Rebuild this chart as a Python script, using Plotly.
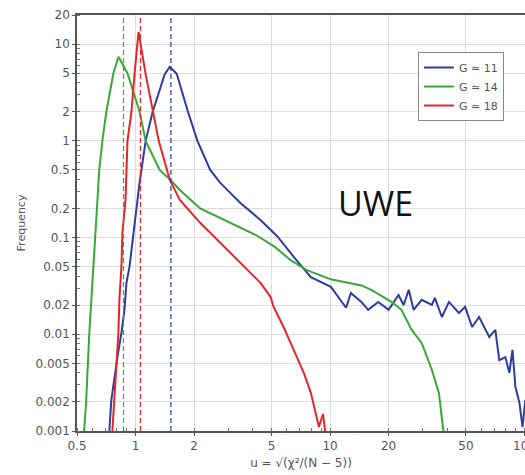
import plotly.graph_objects as go
import numpy as np

# ---- data ----
blue_x = [0.733, 0.751, 0.807, 0.846, 0.877, 0.898, 0.931, 0.965, 1.024, 1.049, 1.127, 1.225, 1.413, 1.50,
          1.63, 1.75, 1.86, 2.08, 2.42, 2.72, 3.46, 4.39, 5.38, 6.51, 7.97,
          10.1, 11.0, 12.1, 12.8, 14.5, 15.7, 17.7, 20.0, 22.5, 23.9, 25.4, 26.9, 29.6, 33.4, 34.6,
          37.6, 40.9, 46.0, 49.5, 53.8, 58.4, 65.9, 70.8, 74.2, 79.7, 83.6, 86.7, 89.8, 94.2, 97.7, 101]
blue_y = [0.001, 0.0021, 0.0058, 0.0103, 0.0179, 0.034, 0.050, 0.095, 0.245, 0.37, 1.0, 2.0, 4.9, 5.82,
          4.9, 3.0, 2.0, 1.0, 0.50, 0.37, 0.228, 0.152, 0.102, 0.063, 0.039,
          0.0309, 0.0244, 0.0188, 0.0268, 0.0216, 0.0179, 0.0216, 0.0179, 0.0255, 0.0201, 0.0288, 0.0179,
          0.0227, 0.0201, 0.0238, 0.0151, 0.0216, 0.0166, 0.0192, 0.0119, 0.0151, 0.0094, 0.0111,
          0.0054, 0.0058, 0.0040, 0.0069, 0.00286, 0.00195, 0.0011, 0.0021]

green_x = [0.544, 0.557, 0.578, 0.606, 0.620, 0.636, 0.651, 0.675, 0.708, 0.769, 0.817,
           0.909, 1.049, 1.127, 1.33, 1.50, 1.69, 2.15, 3.07, 4.2, 5.2, 6.3, 7.6,
           10.1, 14.5, 16.3, 20.7, 23.3, 26.3, 29.6, 33.4, 36.3, 38.5]
green_y = [0.001, 0.002, 0.01, 0.05, 0.1, 0.2, 0.5, 1.0, 2.0, 5.0, 7.39,
           5.0, 2.0, 1.0, 0.5, 0.40, 0.31, 0.20, 0.142, 0.105, 0.080, 0.058, 0.046,
           0.037, 0.032, 0.0288, 0.0216, 0.0179, 0.0111, 0.00815, 0.00428, 0.00248, 0.0009]

red_x = [0.760, 0.778, 0.797, 0.816, 0.826, 0.846, 0.856, 0.888, 0.909, 0.953, 0.988, 1.036,
         1.127, 1.225, 1.316, 1.50, 1.69, 2.15, 2.63, 3.76, 4.39, 4.94, 5.13, 5.77, 6.51,
         7.33, 7.97, 8.46, 8.77, 9.2, 9.5]
red_y = [0.001, 0.0021, 0.0046, 0.0103, 0.0227, 0.050, 0.112, 0.245, 1.0, 2.0, 4.9, 13.4,
         4.9, 2.0, 1.0, 0.395, 0.245, 0.142, 0.095, 0.0464, 0.034, 0.0244, 0.0192, 0.0119, 0.0069,
         0.0040, 0.00248, 0.00154, 0.0011, 0.0015, 0.0009]

series_names = ["G \u2243 11", "G \u2243 14", "G \u2243 18"]
series_colors = ["#2e3c9e", "#38a838", "#e2262c"]
mean_values = [1.52, 0.867, 1.06]   # dashed vertical markers (blue, green, red)

x_ticks = [0.5, 1, 2, 5, 10, 20, 50, 100]
y_ticks = [0.001, 0.002, 0.005, 0.01, 0.02, 0.05, 0.1, 0.2, 0.5, 1, 2, 5, 10, 20]
y_ticktext = ["0.001", "0.002", "0.005", "0.01", "0.02", "0.05", "0.1", "0.2", "0.5", "1", "2", "5", "10", "20"]
x_ticktext = ["0.5", "1", "2", "5", "10", "20", "50", "100"]

fig = go.Figure()

for xs, ys, name, col in zip([blue_x, green_x, red_x], [blue_y, green_y, red_y], series_names, series_colors):
    fig.add_trace(go.Scatter(x=xs, y=ys, mode="lines", name=name,
                             line=dict(color=col, width=2)))

for m, col in zip(mean_values, series_colors):
    fig.add_trace(go.Scatter(x=[m, m], y=[y_ticks[0], y_ticks[-1]], mode="lines", showlegend=False,
                             line=dict(color=col, width=1.2, dash="5px,3px"), hoverinfo="skip"))

axis_font = dict(family="DejaVu Sans", size=12, color="#555555")

fig.update_layout(
    width=525, height=475,
    margin=dict(l=77, r=0, t=15, b=44),
    paper_bgcolor="white", plot_bgcolor="white",
    showlegend=True,
    legend=dict(x=0.761, y=0.911, xanchor="left", yanchor="top",
                bordercolor="#888888", borderwidth=1, bgcolor="white",
                font=dict(family="DejaVu Sans", size=11, color="#555555"),
                itemwidth=30, tracegroupgap=0),
    annotations=[dict(text="UWE", xref="paper", yref="paper", x=0.667, y=0.549,
                      xanchor="center", yanchor="middle", showarrow=False,
                      font=dict(family="Open Sans", size=34, color="#111111"))],
)

fig.update_xaxes(type="log", range=[np.log10(0.5), np.log10(100.6)],
                 tickvals=x_ticks, ticktext=x_ticktext, tickfont=axis_font,
                 ticklabeloverflow="allow", automargin=False,
                 showgrid=True, gridcolor="#dddddd", gridwidth=1,
                 showline=True, linecolor="#555555", linewidth=1.5, mirror=True,
                 ticks="outside", ticklen=3, tickcolor="#555555",
                 minor=dict(ticks="inside", ticklen=3, tickcolor="#777777", dtick="D1", showgrid=False),
                 title=dict(text="u = \u221A(\u03C7\u00B2/(N \u2212 5))", standoff=6,
                            font=dict(family="DejaVu Sans", size=12, color="#555555")),
                 zeroline=False)
fig.update_yaxes(type="log", range=[np.log10(0.001), np.log10(20)],
                 tickvals=y_ticks, ticktext=y_ticktext, tickfont=axis_font,
                 automargin=False,
                 showgrid=True, gridcolor="#dddddd", gridwidth=1,
                 showline=True, linecolor="#555555", linewidth=1.5,
                 ticks="outside", ticklen=3, tickcolor="#555555",
                 minor=dict(ticks="inside", ticklen=3, tickcolor="#777777", dtick="D1", showgrid=False),
                 title=dict(text="Frequency", standoff=8,
                            font=dict(family="DejaVu Sans", size=11, color="#555555")),
                 zeroline=False)

fig.write_html("out.html")
